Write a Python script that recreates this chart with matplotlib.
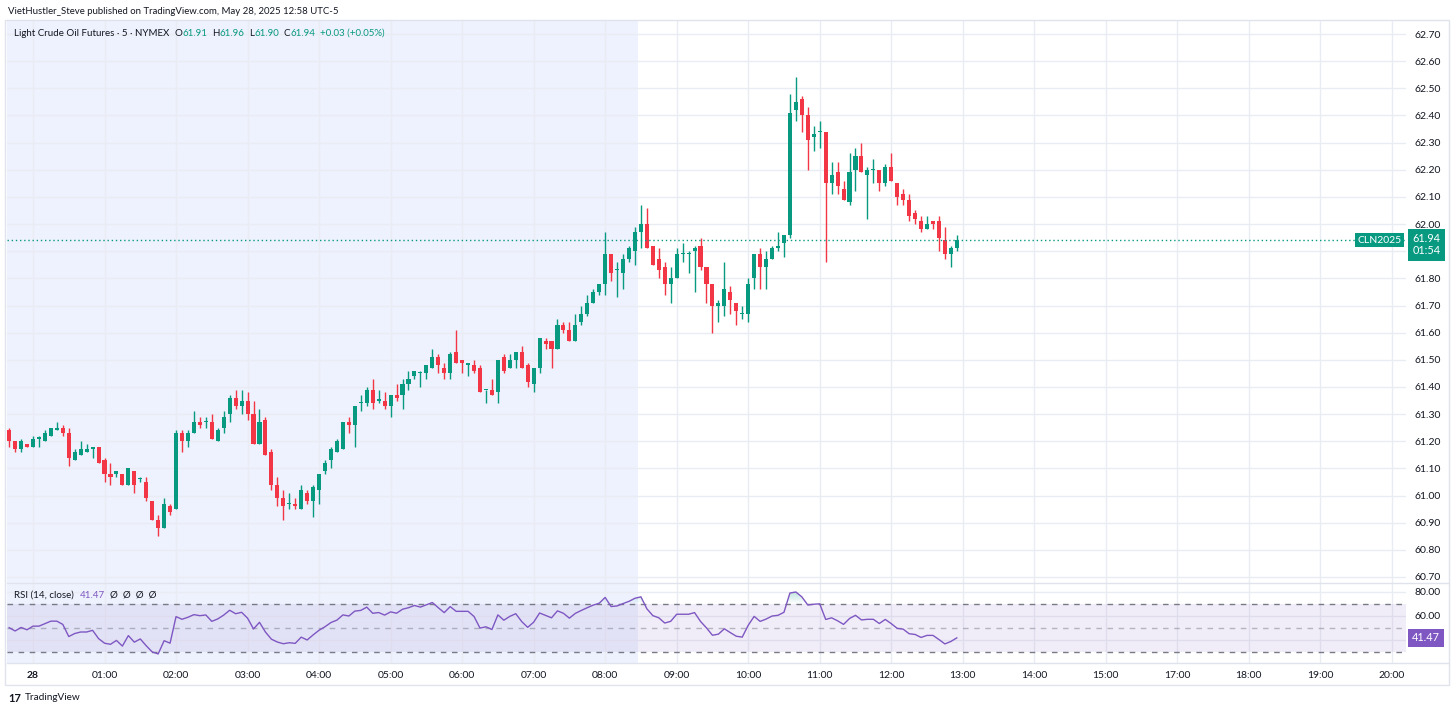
import matplotlib
matplotlib.use('Agg')
import matplotlib.pyplot as plt
import numpy as np
from matplotlib.patches import Rectangle
from matplotlib.lines import Line2D
from matplotlib.path import Path
from matplotlib.colors import to_rgb

plt.rcParams['font.family'] = ['Lato', 'DejaVu Sans']

# ---------------- data (5-min bars, first bar = 23:40 of the previous day) ----------------
first_bar = -4
opens = [61.24, 61.20, 61.17, 61.19, 61.18, 61.21, 61.20, 61.22, 61.24, 61.25,
         61.23, 61.13, 61.15, 61.16, 61.17, 61.18, 61.13, 61.08, 61.08, 61.08,
         61.04, 61.09, 61.06, 61.05, 60.98, 60.91, 60.88, 60.96, 60.95, 61.23,
         61.20, 61.23, 61.27, 61.27, 61.27, 61.20, 61.25, 61.30, 61.36, 61.33,
         61.35, 61.30, 61.19, 61.28, 61.16, 61.04, 60.99, 60.97, 60.97, 60.95,
         61.01, 60.98, 61.02, 61.09, 61.13, 61.16, 61.17, 61.27, 61.26, 61.34,
         61.34, 61.39, 61.35, 61.35, 61.33, 61.37, 61.37, 61.41, 61.44, 61.45,
         61.45, 61.47, 61.51, 61.47, 61.45, 61.53, 61.50, 61.48, 61.48, 61.47,
         61.39, 61.39, 61.38, 61.51, 61.47, 61.50, 61.53, 61.48, 61.41, 61.47,
         61.57, 61.57, 61.54, 61.63, 61.61, 61.57, 61.64, 61.67, 61.71, 61.75,
         61.78, 61.89, 61.83, 61.82, 61.87, 61.90, 61.97, 62.00, 61.92, 61.87,
         61.84, 61.78, 61.80, 61.89, 61.89, 61.90, 61.92, 61.84, 61.78, 61.70,
         61.70, 61.75, 61.71, 61.67, 61.67, 61.80, 61.89, 61.84, 61.87, 61.91,
         61.93, 61.96, 62.42, 62.46, 62.40, 62.32, 62.34, 62.34, 62.15, 62.19,
         62.13, 62.08, 62.20, 62.25, 62.18, 62.20, 62.20, 62.15, 62.21, 62.15,
         62.11, 62.09, 62.04, 62.01, 61.98, 62.01, 62.01, 61.94, 61.89, 61.91]
highs = [61.25, 61.20, 61.21, 61.19, 61.22, 61.22, 61.24, 61.25, 61.27, 61.26,
         61.25, 61.17, 61.20, 61.19, 61.18, 61.18, 61.14, 61.12, 61.09, 61.08,
         61.10, 61.09, 61.07, 61.07, 60.98, 60.93, 60.99, 60.97, 61.24, 61.24,
         61.24, 61.31, 61.29, 61.29, 61.30, 61.25, 61.31, 61.37, 61.39, 61.39,
         61.38, 61.35, 61.32, 61.29, 61.17, 61.07, 61.02, 61.01, 60.99, 61.04,
         61.02, 61.04, 61.08, 61.13, 61.18, 61.21, 61.27, 61.29, 61.33, 61.37,
         61.40, 61.43, 61.39, 61.38, 61.37, 61.41, 61.43, 61.46, 61.46, 61.46,
         61.48, 61.54, 61.52, 61.49, 61.53, 61.61, 61.50, 61.49, 61.50, 61.48,
         61.39, 61.43, 61.50, 61.52, 61.52, 61.53, 61.55, 61.49, 61.47, 61.58,
         61.58, 61.57, 61.65, 61.64, 61.64, 61.67, 61.70, 61.74, 61.76, 61.78,
         61.97, 61.89, 61.86, 61.89, 61.92, 61.99, 62.07, 62.06, 61.92, 61.91,
         61.86, 61.84, 61.91, 61.93, 61.90, 61.92, 61.95, 61.84, 61.78, 61.72,
         61.86, 61.77, 61.71, 61.70, 61.80, 61.89, 61.91, 61.90, 61.92, 61.97,
         61.96, 62.48, 62.54, 62.47, 62.43, 62.36, 62.38, 62.34, 62.23, 62.23,
         62.16, 62.26, 62.28, 62.30, 62.21, 62.24, 62.20, 62.22, 62.26, 62.15,
         62.13, 62.11, 62.05, 62.03, 62.03, 62.01, 62.03, 61.99, 61.92, 61.96]
lows = [61.18, 61.16, 61.16, 61.18, 61.18, 61.18, 61.20, 61.22, 61.24, 61.22,
        61.11, 61.13, 61.15, 61.16, 61.14, 61.12, 61.05, 61.04, 61.07, 61.04,
        61.04, 61.01, 61.05, 60.98, 60.91, 60.85, 60.88, 60.93, 60.95, 61.16,
        61.18, 61.23, 61.25, 61.25, 61.21, 61.20, 61.23, 61.27, 61.32, 61.30,
        61.28, 61.19, 61.19, 61.15, 61.02, 60.96, 60.91, 60.95, 60.95, 60.95,
        60.97, 60.92, 60.97, 61.08, 61.10, 61.16, 61.17, 61.23, 61.18, 61.31,
        61.33, 61.32, 61.34, 61.32, 61.29, 61.35, 61.32, 61.39, 61.43, 61.40,
        61.43, 61.47, 61.45, 61.43, 61.43, 61.49, 61.45, 61.44, 61.45, 61.38,
        61.34, 61.37, 61.34, 61.45, 61.47, 61.47, 61.47, 61.40, 61.38, 61.45,
        61.54, 61.47, 61.54, 61.60, 61.57, 61.57, 61.63, 61.66, 61.71, 61.74,
        61.74, 61.79, 61.73, 61.76, 61.86, 61.85, 61.91, 61.91, 61.85, 61.80,
        61.74, 61.71, 61.80, 61.86, 61.82, 61.75, 61.83, 61.71, 61.60, 61.64,
        61.66, 61.67, 61.63, 61.65, 61.64, 61.76, 61.76, 61.76, 61.87, 61.90,
        61.88, 61.95, 62.38, 62.34, 62.20, 62.27, 62.28, 61.86, 62.11, 62.11,
        62.09, 62.07, 62.12, 62.19, 62.02, 62.15, 62.12, 62.14, 62.16, 62.07,
        62.07, 62.01, 62.00, 61.97, 61.98, 61.98, 61.90, 61.87, 61.84, 61.90]
closes = [61.20, 61.17, 61.20, 61.18, 61.21, 61.21, 61.23, 61.25, 61.25, 61.23,
          61.14, 61.16, 61.17, 61.17, 61.18, 61.12, 61.08, 61.07, 61.09, 61.04,
          61.10, 61.04, 61.06, 60.99, 60.91, 60.88, 60.97, 60.94, 61.23, 61.20,
          61.23, 61.27, 61.26, 61.27, 61.21, 61.24, 61.29, 61.36, 61.33, 61.35,
          61.30, 61.19, 61.27, 61.15, 61.04, 60.99, 60.96, 60.97, 60.96, 61.02,
          60.98, 61.03, 61.08, 61.12, 61.17, 61.20, 61.27, 61.26, 61.33, 61.34,
          61.39, 61.34, 61.35, 61.33, 61.37, 61.36, 61.41, 61.43, 61.46, 61.45,
          61.48, 61.51, 61.48, 61.45, 61.52, 61.49, 61.49, 61.49, 61.46, 61.38,
          61.39, 61.37, 61.50, 61.46, 61.50, 61.53, 61.47, 61.42, 61.47, 61.58,
          61.56, 61.54, 61.63, 61.61, 61.57, 61.63, 61.67, 61.71, 61.75, 61.78,
          61.89, 61.82, 61.83, 61.87, 61.91, 61.97, 62.00, 61.91, 61.85, 61.83,
          61.78, 61.80, 61.89, 61.89, 61.89, 61.91, 61.84, 61.78, 61.70, 61.71,
          61.76, 61.72, 61.68, 61.67, 61.78, 61.89, 61.84, 61.87, 61.91, 61.92,
          61.96, 62.41, 62.45, 62.40, 62.31, 62.33, 62.34, 62.15, 62.18, 62.14,
          62.09, 62.19, 62.25, 62.19, 62.20, 62.20, 62.15, 62.21, 62.16, 62.10,
          62.09, 62.03, 62.02, 61.98, 62.00, 62.00, 61.95, 61.89, 61.91, 61.94]

session_end_bar = 101.5          # end of the shaded (pre-session) background
hour_ticks = [0, 12, 24, 36, 48, 60, 72, 84, 96, 108, 120, 132, 144, 156, 168, 180, 192, 204, 216, 228]
hour_labels = ['28', '01:00', '02:00', '03:00', '04:00', '05:00', '06:00', '07:00', '08:00', '09:00',
               '10:00', '11:00', '12:00', '13:00', '14:00', '15:00', '17:00', '18:00', '19:00', '20:00']
price_ticks = [round(60.70 + 0.10 * i, 2) for i in range(21)]
rsi_seed_gain = 0.02
rsi_seed_loss = 0.02
rsi_period = 14
rsi_reading = 41.47              # value printed by the platform
countdown = '01:54'
change_txt = '+0.03 (+0.05%)'

# ---------------- derived ----------------
o = np.array(opens); h = np.array(highs); l = np.array(lows); c = np.array(closes)
x = np.arange(first_bar, first_bar + len(c))

ag, al = rsi_seed_gain, rsi_seed_loss
rsi = [100 - 100 / (1 + ag / al)]
for i in range(1, len(c)):
    d = c[i] - c[i - 1]
    ag = (ag * (rsi_period - 1) + max(d, 0)) / rsi_period
    al = (al * (rsi_period - 1) + max(-d, 0)) / rsi_period
    rsi.append(100 - 100 / (1 + ag / al))
rsi = np.array(rsi)

GREEN = '#089981'; RED = '#F23645'; PURPLE = '#7E57C2'
TXT = '#131722'; GRID = '#E9ECF2'; SHADE = '#EEF2FE'
FS = 7.0

W, H = 1456, 713
fig = plt.figure(figsize=(W / 100, H / 100), dpi=100)
fig.patch.set_facecolor('white')

def fx(px): return px / W
def fy(py): return 1 - py / H

L_, R_ = 7, 1406
ax = fig.add_axes([fx(L_), fy(583), fx(R_) - fx(L_), fy(21) - fy(583)])
rax = fig.add_axes([fx(L_), fy(663), fx(R_) - fx(L_), fy(583) - fy(663)], sharex=ax)

bar_px = 5.96
x0_px = 33
xlim = ((L_ - x0_px) / bar_px, (R_ - x0_px) / bar_px)

for a in (ax, rax):
    a.set_facecolor('white')
    for s in a.spines.values():
        s.set_visible(False)
    a.axvspan(xlim[0], session_end_bar, color=SHADE, zorder=0, lw=0)
    for t in hour_ticks:
        a.axvline(t, color=GRID, lw=1, zorder=0.5)
    a.tick_params(length=0)

# main pane
ax.set_xlim(*xlim)
ax.set_ylim(60.70 - 6 / 271.5, 62.70 + 13 / 271.5)
for p in price_ticks:
    ax.axhline(p, color=GRID, lw=1, zorder=0.5)

up = c >= o
col = np.where(up, GREEN, RED)
ax.vlines(x, l, h, colors=col, lw=1, zorder=2)
body_bottom = np.minimum(o, c)
body_h = np.maximum(np.abs(c - o), 0.004)
ax.bar(x, body_h, bottom=body_bottom, width=0.68, color=col, zorder=3, lw=0)

last = c[-1]
ax.axhline(last, color=GREEN, lw=1, ls=(0, (1, 2)), zorder=4)

ax.yaxis.tick_right()
shown = [p for p in price_ticks if abs(p - 61.90) > 1e-6]
ax.set_yticks(shown)
ax.set_yticklabels([f'{p:.2f}' for p in shown], fontsize=7.5, color=TXT)
ax.tick_params(axis='y', pad=6)
plt.setp(ax.get_xticklabels(), visible=False)

# price labels
ax.annotate('CLN2025', xy=(1.0, last), xycoords=('axes fraction', 'data'),
            xytext=(-3, 0), textcoords='offset points', ha='right', va='center',
            fontsize=7.5, color='white',
            bbox=dict(boxstyle='square,pad=0.25', fc=GREEN, ec='none'), zorder=6,
            annotation_clip=False)
ax.annotate(f'{last:.2f}\n{countdown}', xy=(1.0, last), xycoords=('axes fraction', 'data'),
            xytext=(4.5, 5), textcoords='offset points', ha='left', va='top',
            fontsize=7.8, color='white', linespacing=1.1,
            bbox=dict(boxstyle='square,pad=0.4', fc=GREEN, ec='none'), zorder=6,
            annotation_clip=False)

# RSI pane
rax.set_ylim(80 - 71.3 / 1.2, 80 + 8.7 / 1.2)
for g in (40, 60, 80):
    rax.axhline(g, color=GRID, lw=1, zorder=0.5)
rax.axhspan(30, 70, color=PURPLE, alpha=0.1, lw=0, zorder=1)
rax.axhline(70, color='#787B86', lw=1, ls=(0, (4, 4)), zorder=2)
rax.axhline(50, color='#787B86', lw=1, ls=(0, (4, 4)), alpha=0.5, zorder=2)
rax.axhline(30, color='#787B86', lw=1, ls=(0, (4, 4)), zorder=2)


def gradient_fill(level, far, where, color, amax):
    coll = rax.fill_between(x, level, rsi, where=where, interpolate=True,
                            facecolor='none', edgecolor='none', lw=0)
    paths = coll.get_paths()
    if not paths:
        return
    rgb = to_rgb(color)
    n = 256
    img = np.zeros((n, 1, 4))
    img[..., 0], img[..., 1], img[..., 2] = rgb
    img[:, 0, 3] = np.linspace(0, amax, n)
    lo, hi = sorted((level, far))
    if far < level:
        img = img[::-1]
    im = rax.imshow(img, extent=(xlim[0], xlim[1], lo, hi), origin='lower',
                    aspect='auto', zorder=2, interpolation='bilinear')
    im.set_clip_path(Path.make_compound_path(*paths), transform=rax.transData)


gradient_fill(70, 100, rsi > 70, GREEN, 0.75)
gradient_fill(30, 0, rsi < 30, RED, 0.75)
rax.plot(x, rsi, color=PURPLE, lw=1, zorder=3)
rax.set_xlim(*xlim)
rax.set_ylim(80 - 71.3 / 1.2, 80 + 8.7 / 1.2)
rax.yaxis.tick_right()
rax.set_yticks([60, 80])
rax.set_yticklabels(['60.00', '80.00'], fontsize=7.5, color=TXT)
rax.tick_params(axis='y', pad=6)
rax.set_xticks(hour_ticks)
rax.set_xticklabels(hour_labels, fontsize=7.5, color=TXT)
rax.get_xticklabels()[0].set_fontweight('bold')
rax.tick_params(axis='x', pad=6)
rax.annotate(f'{rsi_reading:.2f}', xy=(1.0, rsi_reading), xycoords=('axes fraction', 'data'),
             xytext=(4.5, 0), textcoords='offset points', ha='left', va='center',
             fontsize=7.8, color='white',
             bbox=dict(boxstyle='square,pad=0.35', fc=PURPLE, ec='none'), zorder=6,
             annotation_clip=False)

# separators and frame
fig.add_artist(Line2D([fx(L_), fx(1449)], [fy(583), fy(583)], color='#E0E3EB', lw=1))
fig.add_artist(Line2D([fx(L_), fx(1449)], [fy(663), fy(663)], color='#E0E3EB', lw=1))
fig.add_artist(Rectangle((fx(5), fy(685)), fx(1449) - fx(5), fy(20) - fy(685),
                         fill=False, ec='#E0E3EB', lw=1))

# header & legends
fig.text(fx(8), fy(12), 'VietHustler_Steve published on TradingView.com, May 28, 2025 12:58 UTC-5',
         fontsize=6.9, color=TXT, va='center', ha='left')


def chain(parts, start_xy, size=FS):
    prev = fig.text(fx(start_xy[0]), fy(start_xy[1]), parts[0][0], fontsize=size,
                    color=parts[0][1], va='center', ha='left')
    for txt, clr, gap in parts[1:]:
        prev = plt.annotate(txt, xy=(1, 0.5), xycoords=prev, xytext=(gap, 0),
                            textcoords='offset points', va='center', ha='left',
                            fontsize=size, color=clr)
    return prev


chain([('Light Crude Oil Futures · 5 · NYMEX', TXT, 0),
       ('O', TXT, 3.5), (f'{opens[-1]:.2f}', GREEN, 0),
       ('H', TXT, 3.5), (f'{highs[-1]:.2f}', GREEN, 0),
       ('L', TXT, 3.5), (f'{lows[-1]:.2f}', GREEN, 0),
       ('C', TXT, 3.5), (f'{closes[-1]:.2f}', GREEN, 0),
       (change_txt, GREEN, 3.5)],
      (14, 33))

chain([('RSI (14, close)', TXT, 0),
       (f'{rsi_reading:.2f}', PURPLE, 4),
       ('Ø  Ø  Ø  Ø', TXT, 4)], (14, 595))

fig.text(fx(8), fy(698), '17', fontsize=8, fontweight='bold', color=TXT, va='center', ha='left')
fig.text(fx(25), fy(698), 'TradingView', fontsize=7.2, color=TXT, va='center', ha='left')

fig.savefig('out.png', dpi=100, facecolor='white')
